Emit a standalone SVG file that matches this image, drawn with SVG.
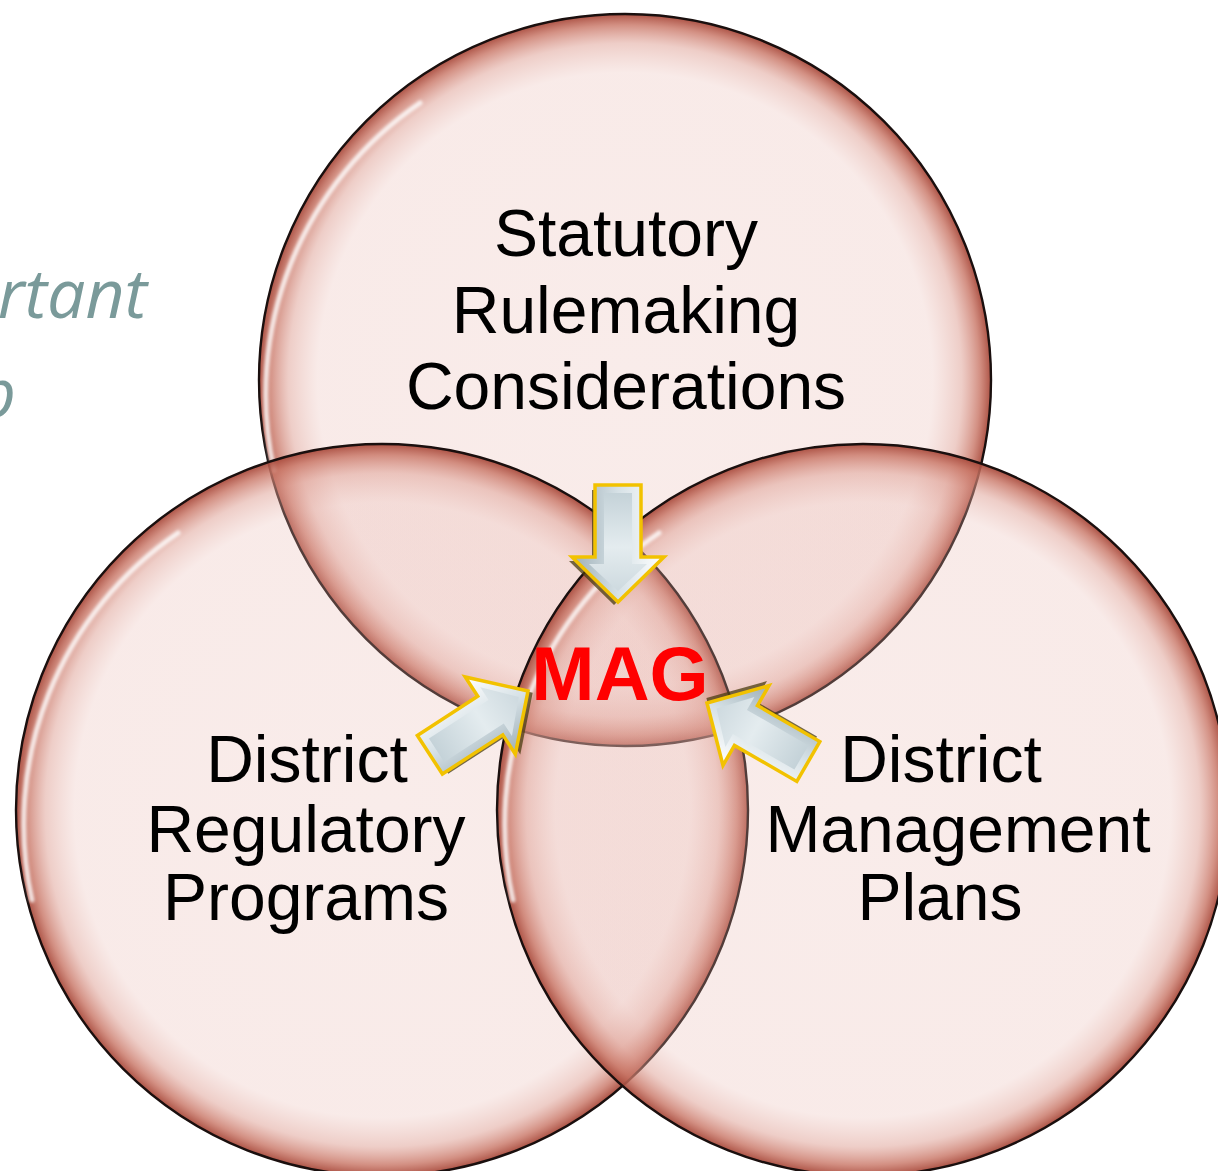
<svg xmlns="http://www.w3.org/2000/svg" xmlns:xlink="http://www.w3.org/1999/xlink" width="1218" height="1171" viewBox="0 0 1218 1171">
<style>
.lbl{font-family:"Liberation Sans",Arial,sans-serif;font-size:66px;fill:#000;text-anchor:middle}
.mag{font-family:"Liberation Sans",Arial,sans-serif;font-size:76px;font-weight:bold;fill:#ff0000;text-anchor:middle}
.bg{font-family:"Open Sans","Noto Sans",sans-serif;font-style:italic;font-size:68px;fill:#7a9a9a}
.ring{fill:url(#cg);stroke:#1a0f0e;stroke-width:2.4}
.hl{fill:none;stroke:#ffffff;stroke-width:5;stroke-opacity:0.8;stroke-linecap:round;filter:url(#blur)}
</style>
<defs>
<radialGradient id="cg" cx="0.5" cy="0.5" r="0.5">
<stop offset="0" stop-color="#e8b6ae" stop-opacity="0.26"/>
<stop offset="0.84" stop-color="#e8b6ae" stop-opacity="0.28"/>
<stop offset="0.92" stop-color="#dd9c90" stop-opacity="0.5"/>
<stop offset="0.97" stop-color="#c87464" stop-opacity="0.8"/>
<stop offset="1" stop-color="#a84a3c" stop-opacity="0.95"/>
</radialGradient>
<filter id="blur" x="-10%" y="-10%" width="120%" height="120%"><feGaussianBlur stdDeviation="1.5"/></filter>
<linearGradient id="ag" gradientUnits="userSpaceOnUse" x1="0" y1="-45" x2="0" y2="45">
<stop offset="0" stop-color="#ffffff"/>
<stop offset="0.5" stop-color="#d6e1e6"/>
<stop offset="1" stop-color="#9fb0b8"/>
</linearGradient>
<linearGradient id="ag2" gradientUnits="userSpaceOnUse" x1="-110" y1="0" x2="0" y2="0">
<stop offset="0" stop-color="#c4d2d8"/>
<stop offset="0.5" stop-color="#e4ecef"/>
<stop offset="1" stop-color="#c8d5db"/>
</linearGradient>
<g id="arrow">
<polygon points="3,4 -41,49 -41,26 -112,26 -112,-18 -41,-18 -41,-41" fill="#4a3c10" opacity="0.75"/>
<polygon points="0,0 -45,-46 -45,-23 -117,-23 -117,23 -45,23 -45,46" fill="url(#ag)" stroke="#f2c200" stroke-width="3.5" stroke-linejoin="miter"/>
<polygon points="-11,0 -38,-29 -38,-14 -109,-14 -109,14 -38,14 -38,29" fill="url(#ag2)"/>
</g>
</defs>
<rect width="1218" height="1171" fill="#ffffff"/>
<text class="bg" x="147" y="318" text-anchor="end">rtant</text>
<text class="bg" x="16" y="417" text-anchor="end">p</text>
<g id="node-statutory">
<circle class="ring" cx="625" cy="380" r="366"/>
<path class="hl" d="M 274 470 A 352 352 0 0 1 420 103"/>
<text class="lbl" x="626" y="256">Statutory</text>
<text class="lbl" x="626" y="333">Rulemaking</text>
<text class="lbl" x="626" y="409">Considerations</text>
</g>
<g id="node-regulatory">
<circle class="ring" cx="382" cy="810" r="366"/>
<path class="hl" d="M 32 900 A 352 352 0 0 1 178 533"/>
<text class="lbl" x="307" y="782">District</text>
<text class="lbl" x="306" y="852">Regulatory</text>
<text class="lbl" x="306" y="920">Programs</text>
</g>
<g id="node-management">
<circle class="ring" cx="863" cy="810" r="366"/>
<path class="hl" d="M 513 900 A 352 352 0 0 1 659 533"/>
<text class="lbl" x="941" y="782">District</text>
<text class="lbl" x="958" y="852">Management</text>
<text class="lbl" x="940" y="920">Plans</text>
</g>
<g id="node-mag">
<text class="mag" x="620" y="700">MAG</text>
</g>
<g id="connectors">
<use xlink:href="#arrow" transform="translate(618,602) rotate(90)"/>
<use xlink:href="#arrow" transform="translate(528,691) rotate(-33)"/>
<use xlink:href="#arrow" transform="translate(707,703) rotate(-150)"/>
</g>
</svg>
